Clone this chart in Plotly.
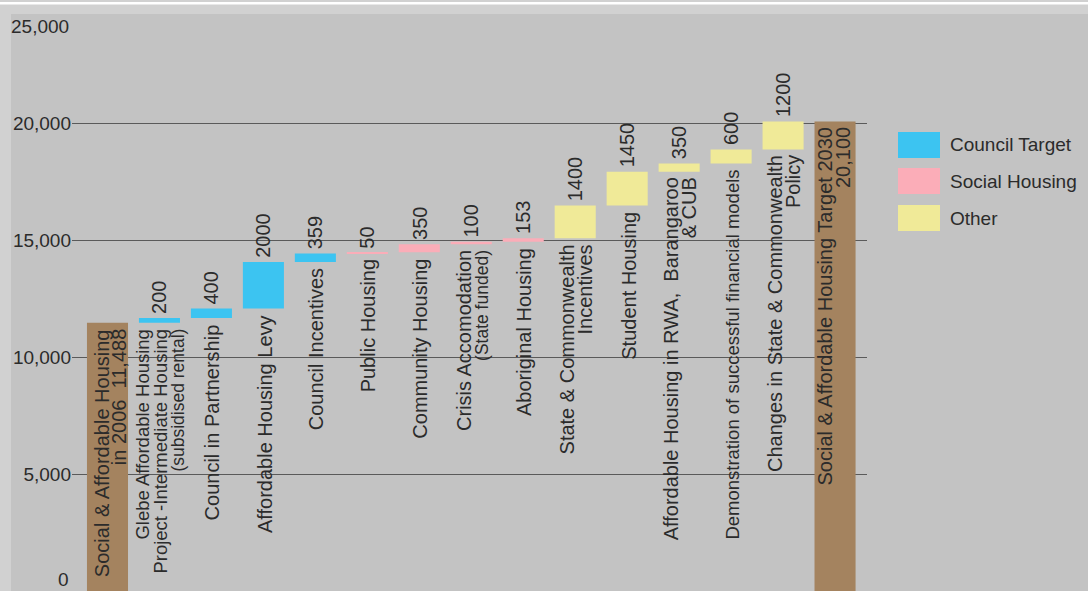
import numpy as np
import plotly.graph_objects as go

# ---------------- data ----------------
start_value = 11488
target_value = 20100
start_lines = ["Social & Affordable Housing", "in 2006  {:,}"]
target_lines = ["Social & Affordable Housing Target 2030", "{:,}"]

step_values = [200, 400, 2000, 359, 50, 350, 100, 153, 1400, 1450, 350, 600, 1200]
step_groups = [0, 0, 0, 0, 1, 1, 1, 1, 2, 2, 2, 2, 2]
step_labels = [
    ["Glebe Affordable Housing", "Project -Intermediate Housing", "(subsidised rental)"],
    ["Council in Partnership"],
    ["Affordable Housing Levy"],
    ["Council Incentives"],
    ["Public Housing"],
    ["Community Housing"],
    ["Crisis Accomodation", "(State funded)"],
    ["Aboriginal Housing"],
    ["State & Commonwealth", "Incentives"],
    ["Student Housing"],
    ["Affordable Housing in RWA,  Barangaroo", "& CUB"],
    ["Demonstration of successful financial models"],
    ["Changes in State & Commonwealth", "Policy"],
]
group_names = ["Council Target", "Social Housing", "Other"]
group_colors = ["#3cc4f1", "#fbadb8", "#f0ea98"]
total_color = "#a4835f"

y_tick_vals = [5000, 10000, 15000, 20000]
y_tick_text = ["5,000", "10,000", "15,000", "20,000"]
y_edge_text = ["0", "25,000"]

# ---------------- layout constants ----------------
W, H = 1088, 591
L, R, T, B = 72, 221, 14, 0
PW, PH = W - L - R, H - T - B
FONT = "Liberation Sans, Arial, Helvetica, sans-serif"
TXT = "#2b2b2b"
BG = "#c3c3c3"
BAND = "#d1d1d1"
FS = 20
SMALL_FS = 17.5
LABEL_FS_OVERRIDE = {0: 18.5, 11: 18.5}


def px_x(x):
    return (x - L) / PW


def px_y(y):
    return (H - B - y) / PH


vals = np.array(step_values)
tops = start_value + np.cumsum(vals)
bases = tops - vals
n_steps = len(step_values)
x_steps = np.arange(1, n_steps + 1)
x_target = n_steps + 1

fig = go.Figure()

# totals
fig.add_trace(go.Bar(
    x=[0, x_target], y=[start_value, target_value],
    marker=dict(color=total_color, line=dict(width=0)),
    width=0.79, showlegend=False,
    hovertext=["Social & Affordable Housing in 2006", "Social & Affordable Housing Target 2030"],
))

# steps per group
for g, (gname, gcol) in enumerate(zip(group_names, group_colors)):
    idx = [i for i in range(n_steps) if step_groups[i] == g]
    fig.add_trace(go.Bar(
        x=x_steps[idx], y=vals[idx], base=bases[idx],
        marker=dict(color=gcol, line=dict(width=0)),
        width=0.79, name=gname, showlegend=False,
        hovertext=[" ".join(step_labels[i]) for i in idx],
    ))

annotations = []
LINE_GAP = 18


def add_label(x, y, lines, center_shift=1, gap=LINE_GAP, size=FS):
    n = len(lines)
    for k, line in enumerate(lines):
        small = line.startswith("(")
        annotations.append(dict(
            x=x, y=y, xref="x", yref="y", text=line, showarrow=False,
            textangle=-90, xanchor="center", yanchor="top",
            xshift=(k - (n - 1) / 2) * gap + center_shift, yshift=-4,
            font=dict(family=FONT, size=SMALL_FS if small else size, color=TXT),
        ))


# value labels above step bars
for i in range(n_steps):
    annotations.append(dict(
        x=int(x_steps[i]), y=float(tops[i]), xref="x", yref="y",
        text=str(step_values[i]), showarrow=False, textangle=-90,
        xanchor="center", yanchor="bottom", yshift=2,
        font=dict(family=FONT, size=FS, color=TXT),
    ))
    add_label(int(x_steps[i]), float(bases[i]), step_labels[i],
              size=LABEL_FS_OVERRIDE.get(i, FS))

# labels inside total bars
add_label(0, start_value, [start_lines[0], start_lines[1].format(start_value)], center_shift=2.5, gap=17)
add_label(x_target, target_value, [target_lines[0], target_lines[1].format(target_value)], center_shift=-1)

# edge tick labels
annotations.append(dict(x=0, y=0, xref="paper", yref="paper", text=y_edge_text[0], showarrow=False,
                        xanchor="right", yanchor="bottom", xshift=-1, yshift=-1,
                        font=dict(family=FONT, size=19, color=TXT)))
annotations.append(dict(x=0, y=1, xref="paper", yref="paper", text=y_edge_text[1], showarrow=False,
                        xanchor="right", yanchor="top", xshift=-1, yshift=0,
                        font=dict(family=FONT, size=19, color=TXT)))

shapes = []
# custom legend
legend_rows = [145, 181, 218]
for gname, gcol, cy in zip(group_names, group_colors, legend_rows):
    shapes.append(dict(type="rect", xref="paper", yref="paper",
                       x0=px_x(898), x1=px_x(940), y0=px_y(cy + 13), y1=px_y(cy - 13),
                       fillcolor=gcol, line=dict(width=0), layer="above"))
    annotations.append(dict(x=px_x(948), y=px_y(cy), xref="paper", yref="paper", text=gname,
                            showarrow=False, xanchor="left", yanchor="middle",
                            font=dict(family=FONT, size=19, color=TXT)))

# frame bands (top band, white line, left strip)
shapes.append(dict(type="rect", xref="paper", yref="paper", x0=px_x(0), x1=px_x(W),
                   y0=px_y(14), y1=px_y(0), fillcolor=BAND, line=dict(width=0), layer="above"))
shapes.append(dict(type="rect", xref="paper", yref="paper", x0=px_x(0), x1=px_x(W),
                   y0=px_y(4.5), y1=px_y(2), fillcolor="#ffffff", line=dict(width=0), layer="above"))
shapes.append(dict(type="rect", xref="paper", yref="paper", x0=px_x(0), x1=px_x(11),
                   y0=px_y(H), y1=px_y(14), fillcolor=BAND, line=dict(width=0), layer="above"))

fig.update_layout(
    width=W, height=H, autosize=False,
    margin=dict(l=L, r=R, t=T, b=B, pad=0),
    paper_bgcolor=BG, plot_bgcolor=BG,
    barmode="overlay", bargap=0.21,
    showlegend=False,
    annotations=annotations, shapes=shapes,
    font=dict(family=FONT, size=19, color=TXT),
    xaxis=dict(range=[-0.683, 14.615], showticklabels=False, showgrid=False,
               zeroline=False, showline=False, ticks="", fixedrange=True),
    yaxis=dict(range=[0, 24700], tickvals=y_tick_vals, ticktext=y_tick_text,
               showgrid=True, gridcolor="#5a5a5a", gridwidth=1, zeroline=False,
               showline=False, ticks="", tickfont=dict(family=FONT, size=19, color=TXT),
               fixedrange=True),
)

fig.write_html(
    "out.html",
    config={"displayModeBar": False},
    post_script="document.body.style.margin='0';document.body.style.overflow='hidden';",
)
